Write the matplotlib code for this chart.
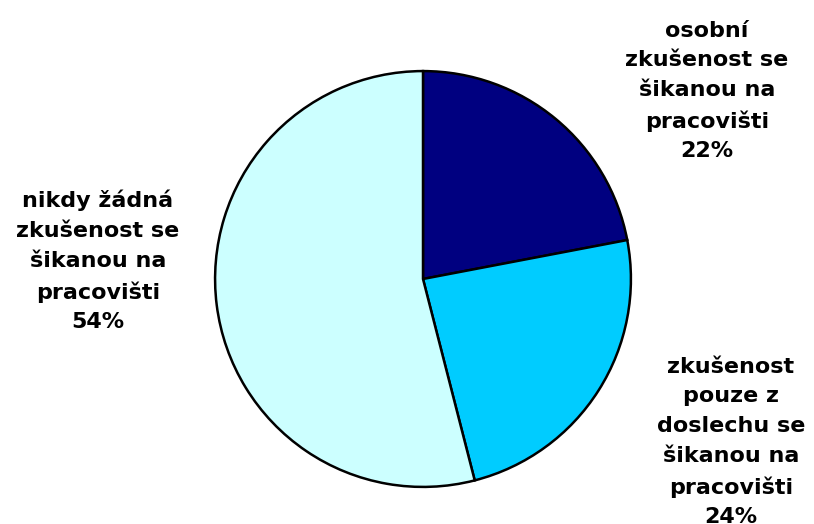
import matplotlib
matplotlib.use("Agg")
import matplotlib.pyplot as plt

labels = ["osobní\nzkušenost se\nšikanou na\npracovišti",
          "zkušenost\npouze z\ndoslechu se\nšikanou na\npracovišti",
          "nikdy žádná\nzkušenost se\nšikanou na\npracovišti"]
values = [22, 24, 54]
colors = ["#000080", "#00CCFF", "#CCFFFF"]
label_pos_px = [(707, 91), (731, 442), (98, 261)]

W, H = 814, 524
fig = plt.figure(figsize=(W / 100, H / 100), dpi=100)
cx, cy, r = 423, 279, 210
ax = fig.add_axes([(cx - r) / W, (H - cy - r) / H, 2 * r / W, 2 * r / H])
ax.pie(values, colors=colors, startangle=90, counterclock=False,
       wedgeprops=dict(edgecolor="black", linewidth=1.8), radius=1.0)
ax.set_xlim(-1.01, 1.01)
ax.set_ylim(-1.01, 1.01)
ax.set_aspect("equal")
ax.axis("off")

for lab, v, (px, py) in zip(labels, values, label_pos_px):
    fig.text(px / W, 1 - py / H, f"{lab}\n{v}%", ha="center", va="center",
             fontsize=16, fontweight="bold", family="DejaVu Sans",
             linespacing=1.6, color="black")

fig.savefig("out.png", dpi=100)
